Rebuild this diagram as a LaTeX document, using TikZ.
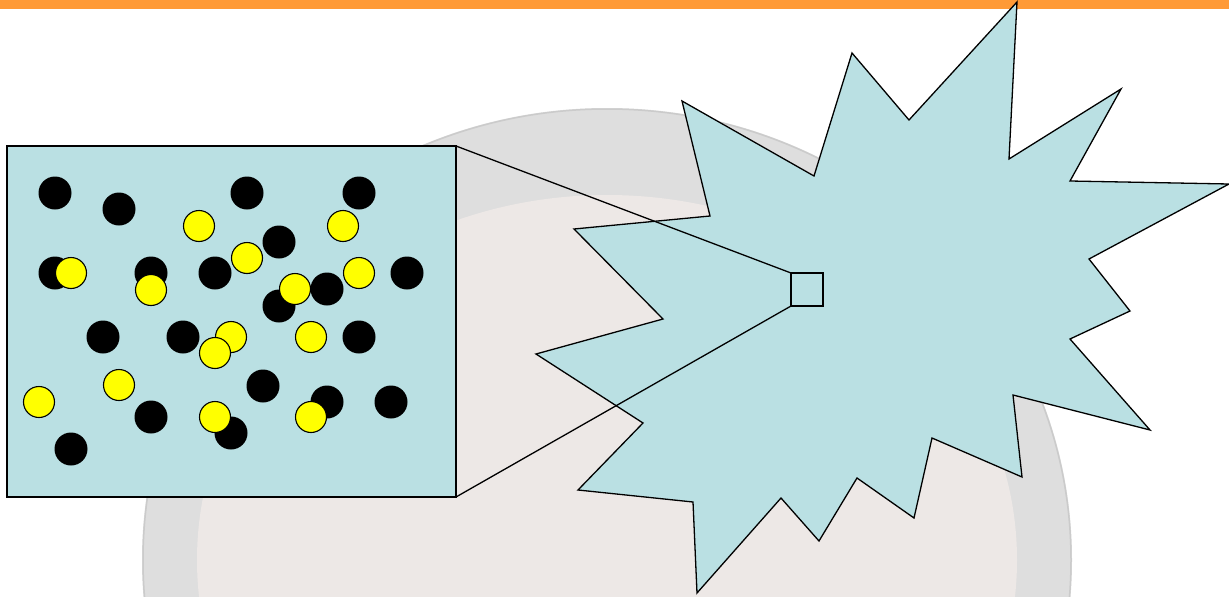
\documentclass[tikz,border=0pt]{standalone}
\definecolor{orangebar}{HTML}{FF9A36}
\definecolor{ringgray}{HTML}{DEDEDE}
\definecolor{ringedge}{HTML}{CBCBCB}
\definecolor{innerpink}{HTML}{EDE8E6}
\definecolor{paleblue}{HTML}{BAE0E3}
\definecolor{dotyellow}{HTML}{FFFF00}
\tikzset{
  outline/.style={draw=black, line width=1.3pt},
  blackdot/.style={fill=black},
  yellowdot/.style={fill=dotyellow, draw=black, line width=1.1pt},
  zoombox/.style={rectangle, fill=paleblue, draw=black, line width=1.6pt, inner sep=0pt, outer sep=0pt},
  connector/.style={draw=black, line width=1.3pt}
}
\begin{document}
\begin{tikzpicture}[x=1pt,y=-1pt]
\useasboundingbox (0,0) rectangle (1229,597);
\fill[white] (0,0) rectangle (1229,597);
\fill[orangebar] (0,0) rectangle (1229,8.5);
% faded background dish
\begin{scope}
\clip (0,0) rectangle (1229,597);
\fill[ringgray] (607,560) ellipse [x radius=465, y radius=452];
\draw[ringedge, line width=1.5pt] (607,560) ellipse [x radius=464, y radius=451];
\fill[innerpink] (607,560) ellipse [x radius=410, y radius=365];
\end{scope}
% starburst
\filldraw[fill=paleblue, outline, line join=miter]
 (1017,2) -- (1009,159) -- (1121,89) -- (1070,181) -- (1229,184) -- (1089,259)
 -- (1130,311) -- (1070,339) -- (1150,430) -- (1013,395) -- (1022,477)
 -- (932,438) -- (914,518) -- (857,478) -- (819,541) -- (781,498)
 -- (697,593) -- (693,502) -- (578,490) -- (643,423) -- (536,354)
 -- (663,319) -- (574,229) -- (710,216) -- (682,101) -- (814,176)
 -- (852,53) -- (909,120) -- cycle;
% magnified box
\node[zoombox, minimum width=449pt, minimum height=351pt] (zoom) at (231.5,321.5) {};
\node[rectangle, draw=black, line width=1.3pt, fill=paleblue, inner sep=0pt, outer sep=0pt,
      minimum width=32pt, minimum height=33pt] (sq) at (807,289.5) {};
\draw[connector] (zoom.north east) -- (sq.north west);
\draw[connector] (zoom.south east) -- (sq.south west);
% black particles
\foreach \px/\py in {55/193, 119/209, 247/193, 359/193, 279/242, 55/273, 151/273,
  215/273, 407/273, 327/289, 279/306, 103/337, 183/337, 359/337, 263/386,
  327/402, 391/402, 151/417, 231/433, 71/449}
  \fill[blackdot] (\px,\py) circle [radius=16.5];
% yellow particles
\foreach \px/\py in {199/226, 343/226, 247/258, 71/273, 151/290, 359/273, 295/289,
  231/337, 215/353, 311/337, 119/385, 39/402, 215/417, 311/417}
  \filldraw[yellowdot] (\px,\py) circle [radius=15.5];
\end{tikzpicture}
\end{document}
